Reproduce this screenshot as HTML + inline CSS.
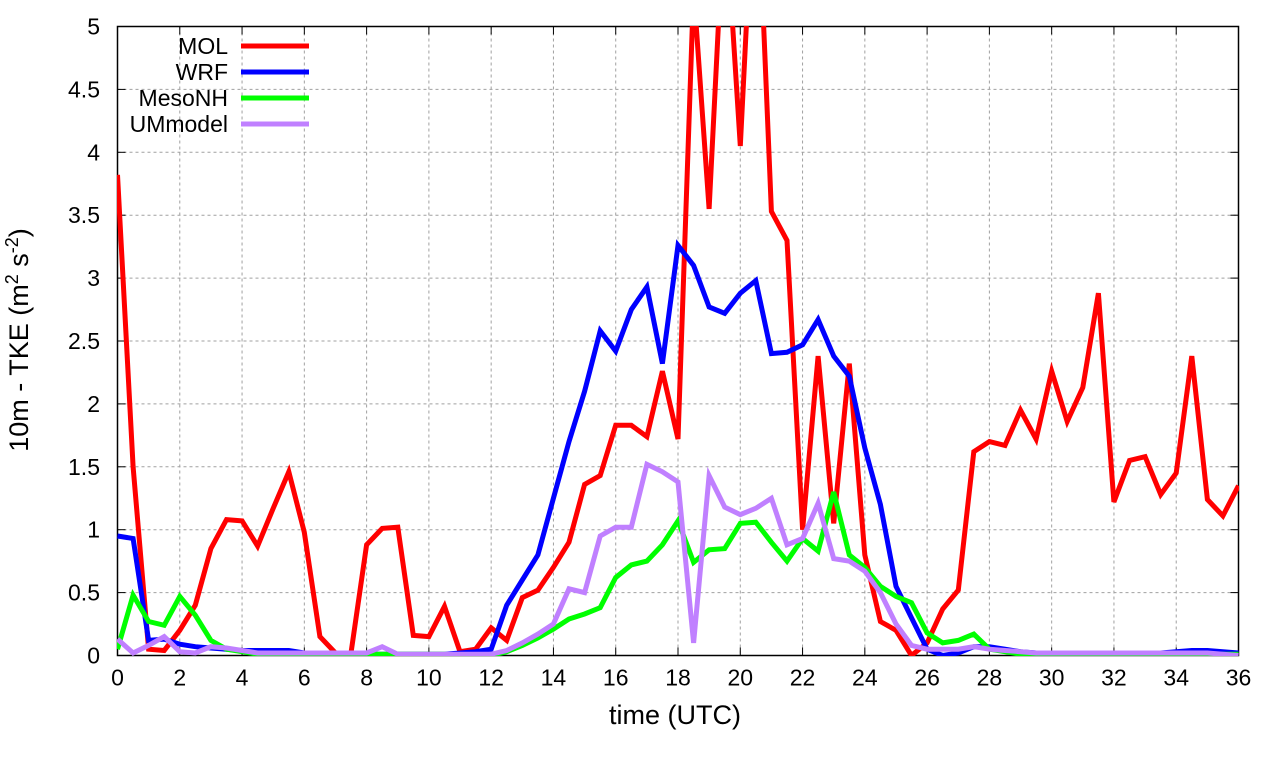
<!DOCTYPE html>
<html><head><meta charset="utf-8"><style>
body{margin:0;background:#fff;}
svg{display:block;font-family:"Liberation Sans",sans-serif;}
</style></head><body>
<svg id="chart" width="1280" height="760">
<defs><clipPath id="clip"><rect x="117" y="26" width="1122" height="630"/></clipPath></defs>
<g id="grid"></g>
<g id="axes"></g>
<g id="series" clip-path="url(#clip)"></g>
<g id="legend"></g>
<text x="675" y="724" text-anchor="middle" font-size="27">time (UTC)</text>
<text transform="translate(28,340) rotate(-90)" text-anchor="middle" font-size="27">10m - TKE (m<tspan dy="-10" font-size="18">2</tspan><tspan dy="10"> s</tspan><tspan dy="-10" font-size="18">-2</tspan><tspan dy="10">)</tspan></text>
</svg>
<script>
const xTicks=[0,2,4,6,8,10,12,14,16,18,20,22,24,26,28,30,32,34,36];
const yTicks=[0,0.5,1,1.5,2,2.5,3,3.5,4,4.5,5];
const yTickLabels=["0","0.5","1","1.5","2","2.5","3","3.5","4","4.5","5"];
const seriesNames=["MOL","WRF","MesoNH","UMmodel"];
const seriesColors=["#ff0000","#0000ff","#00ff00","#c080ff"];
const mol=[3.82,1.5,0.05,0.04,0.2,0.4,0.85,1.08,1.07,0.87,1.17,1.46,0.98,0.15,0.02,0.02,0.88,1.01,1.02,0.16,0.15,0.39,0.03,0.05,0.22,0.12,0.46,0.52,0.7,0.9,1.36,1.43,1.83,1.83,1.74,2.26,1.72,5.3,3.55,6,4.05,6.5,3.53,3.3,1.0,2.38,1.05,2.32,0.8,0.27,0.2,0.0,0.1,0.37,0.52,1.62,1.7,1.67,1.95,1.72,2.26,1.86,2.13,2.88,1.22,1.55,1.58,1.28,1.45,2.38,1.24,1.11,1.35];
const wrf=[0.95,0.93,0.12,0.13,0.09,0.07,0.06,0.05,0.04,0.04,0.04,0.04,0.02,0.02,0.01,0.01,0.01,0.01,0.01,0.01,0.01,0.01,0.02,0.03,0.05,0.4,0.6,0.8,1.25,1.7,2.1,2.58,2.42,2.75,2.93,2.32,3.26,3.1,2.77,2.72,2.88,2.98,2.4,2.41,2.47,2.67,2.38,2.22,1.65,1.2,0.55,0.3,0.05,0.0,0.02,0.07,0.07,0.05,0.03,0.02,0.02,0.02,0.02,0.02,0.02,0.02,0.02,0.02,0.03,0.04,0.04,0.03,0.02];
const mesonh=[0.05,0.48,0.27,0.24,0.47,0.32,0.12,0.05,0.03,0.01,0.01,0.01,0.01,0.01,0.01,0.01,0.01,0.01,0.01,0.01,0.01,0.01,0.0,0.0,0.0,0.03,0.08,0.14,0.21,0.29,0.33,0.38,0.62,0.72,0.75,0.88,1.07,0.74,0.84,0.85,1.05,1.06,0.9,0.75,0.93,0.83,1.3,0.8,0.7,0.55,0.47,0.42,0.18,0.1,0.12,0.17,0.05,0.03,0.01,0.01,0.01,0.01,0.01,0.01,0.01,0.01,0.01,0.01,0.01,0.01,0.01,0.01,0.01];
const um=[0.13,0.02,0.08,0.15,0.03,0.02,0.07,0.06,0.04,0.02,0.02,0.02,0.02,0.02,0.02,0.02,0.02,0.07,0.01,0.01,0.01,0.01,0.01,0.01,0.01,0.04,0.1,0.17,0.25,0.53,0.5,0.95,1.02,1.02,1.52,1.46,1.38,0.1,1.43,1.18,1.12,1.17,1.25,0.88,0.93,1.21,0.77,0.75,0.67,0.5,0.25,0.08,0.05,0.05,0.05,0.07,0.05,0.04,0.03,0.02,0.02,0.02,0.02,0.02,0.02,0.02,0.02,0.02,0.02,0.02,0.02,0.01,0.0];
const allSeries=[mol,wrf,mesonh,um];
const NS="http://www.w3.org/2000/svg";
const X0=117.5,X1=1238.5,Y0=655.5,Y1=26.5;
const xs=t=>X0+(X1-X0)*t/36;
const ys=v=>Y0-(Y0-Y1)*v/5;
function mk(tag,attrs,parent){const e=document.createElementNS(NS,tag);for(const k in attrs)e.setAttribute(k,attrs[k]);parent.appendChild(e);return e;}
const grid=document.getElementById('grid'),axes=document.getElementById('axes');
xTicks.forEach(t=>{
  const g=mk('line',{x1:xs(t),x2:xs(t),y1:Y1,y2:Y0,stroke:'#a0a0a0','stroke-dasharray':'3,3','stroke-width':1},grid);
  
  
  const tk=mk('text',{x:xs(t),y:Y0+30,'text-anchor':'middle','font-size':23},axes);
  tk.textContent=t;
  
  
  mk('line',{x1:xs(t),x2:xs(t),y1:Y0,y2:Y0-8,stroke:'#000'},axes);
  mk('line',{x1:xs(t),x2:xs(t),y1:Y1,y2:Y1+8,stroke:'#000'},axes);
});
yTicks.forEach((v,i)=>{
  const g=mk('line',{x1:X0,x2:X1,y1:ys(v),y2:ys(v),stroke:'#a0a0a0','stroke-dasharray':'3,3','stroke-width':1},grid);
  
  
  const tk=mk('text',{x:100,y:ys(v)+8,'text-anchor':'end','font-size':23},axes);
  tk.textContent=yTickLabels[i];
  
  
  mk('line',{x1:X0,x2:X0+8,y1:ys(v),y2:ys(v),stroke:'#000'},axes);
  mk('line',{x1:X1,x2:X1-8,y1:ys(v),y2:ys(v),stroke:'#000'},axes);
});
const fr=mk('rect',{x:X0,y:Y1,width:X1-X0,height:Y0-Y1,fill:'none',stroke:'#000','stroke-width':1.5},axes);


const sg=document.getElementById('series'),lg=document.getElementById('legend');
allSeries.forEach((d,i)=>{
  const pts=d.map((v,j)=>xs(j*0.5).toFixed(1)+','+ys(v).toFixed(1)).join(' ');
  const p=mk('polyline',{points:pts,fill:'none',stroke:seriesColors[i],'stroke-width':5,'stroke-linejoin':'miter'},sg);
  
  
  const ly=46+i*26;
  const lt=mk('text',{x:228,y:ly+8,'text-anchor':'end','font-size':23},lg);
  lt.textContent=seriesNames[i];
  
  
  const ll=mk('line',{x1:241,x2:309,y1:ly,y2:ly,stroke:seriesColors[i],'stroke-width':5},lg);
  
  
});
</script>
</body></html>
